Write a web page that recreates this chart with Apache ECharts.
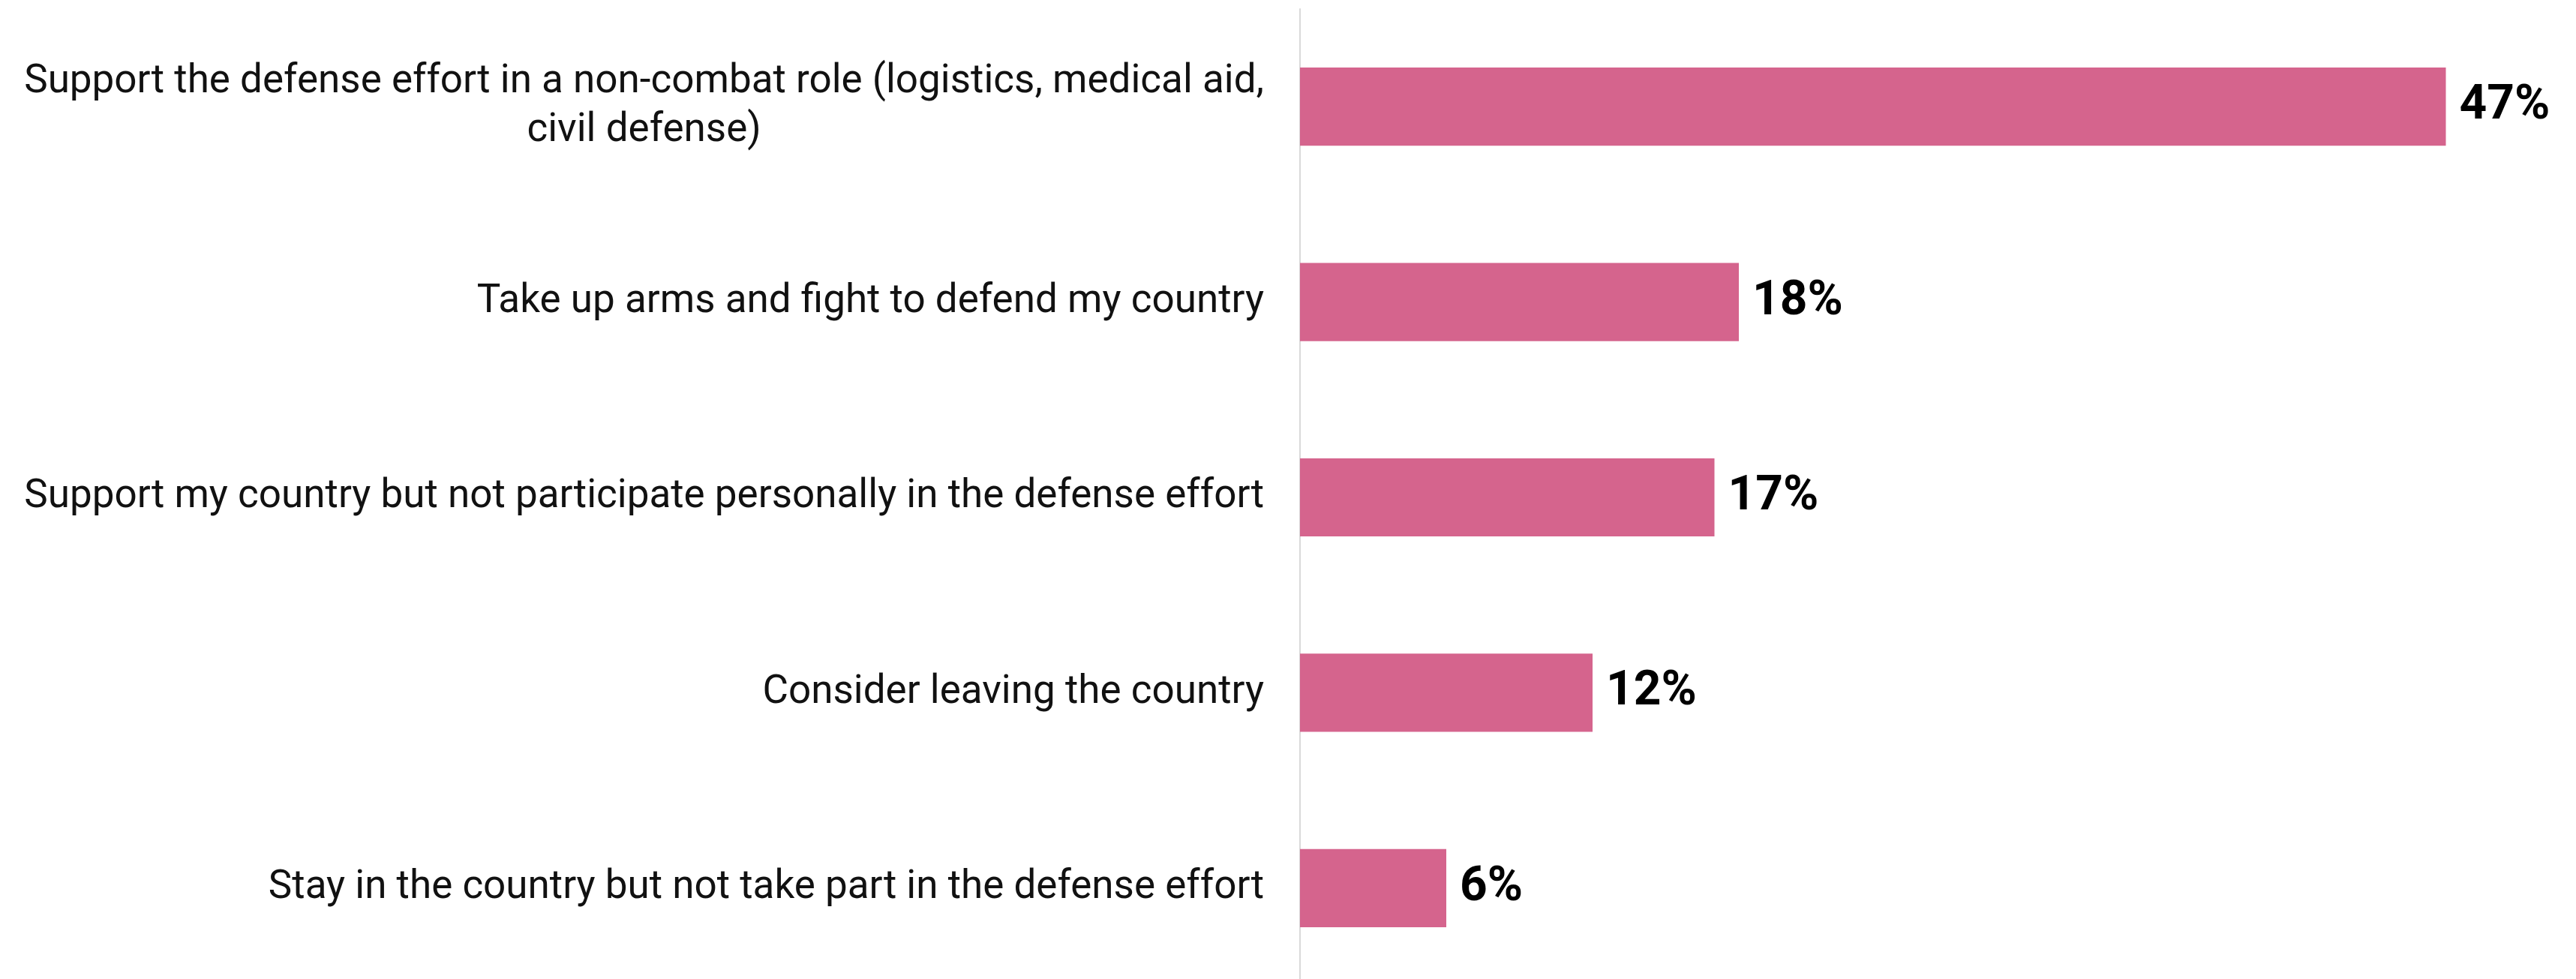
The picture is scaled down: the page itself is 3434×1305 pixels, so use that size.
<!DOCTYPE html>
<html>
<head>
<meta charset="utf-8">
<script src="https://cdn.jsdelivr.net/npm/echarts@6/dist/echarts.min.js"></script>
<style>
html,body{margin:0;padding:0;background:#fff;}
#chart{width:3434px;height:1305px;}
</style>
</head>
<body>
<div id="chart"></div>
<script>
const categories = [
  "Support the defense effort in a non-combat role (logistics, medical aid,\ncivil defense)",
  "Take up arms and fight to defend my country",
  "Support my country but not participate personally in the defense effort",
  "Consider leaving the country",
  "Stay in the country but not take part in the defense effort"
];
const values = [47, 18, 17, 12, 6];

const chart = echarts.init(document.getElementById('chart'));
chart.setOption({
  animation: false,
  backgroundColor: '#ffffff',
  grid: { left: 1733, right: 76, top: 12, height: 1302, containLabel: false, outerBoundsMode: 'none' },
  xAxis: {
    type: 'value', min: 0, max: 50,
    show: false,
    splitLine: { show: false }
  },
  yAxis: {
    type: 'category',
    inverse: true,
    data: categories,
    axisLine: { show: true, lineStyle: { color: '#d9d9d9', width: 2 } },
    axisTick: { show: false },
    axisLabel: {
      margin: 48,
      color: '#111111',
      fontFamily: 'Roboto',
      fontSize: 53,
      lineHeight: 65,
      align: 'right',
      formatter: function (v) {
        return v.split('\n').map(function (l) { return '{c|' + l + '}'; }).join('\n');
      },
      rich: {
        c: { align: 'center', fontFamily: 'Roboto', fontSize: 53, lineHeight: 65, color: '#111111' }
      }
    }
  },
  series: [{
    type: 'bar',
    data: values,
    barWidth: '40%',
    itemStyle: { color: '#D5648D' },
    label: {
      show: true,
      position: 'right',
      distance: 18,
      formatter: '{c}%',
      color: '#000000',
      fontFamily: 'Roboto',
      fontWeight: 'bold',
      fontSize: 64
    }
  }]
});
</script>
</body>
</html>
